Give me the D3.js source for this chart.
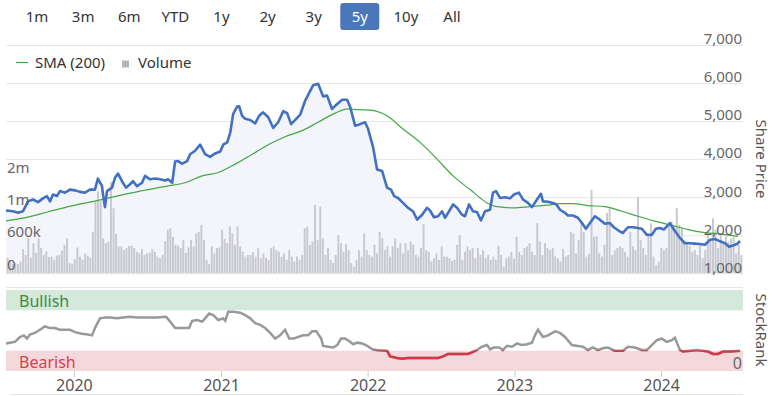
<!DOCTYPE html>
<html>
<head>
<meta charset="utf-8">
<script src="https://cdn.jsdelivr.net/npm/d3@7"></script>
<style>
  body { margin: 0; background: #fff; }
  svg text { font-family: "Noto Sans", "DejaVu Sans", sans-serif; }
  .narrow { font-family: "Liberation Sans Narrow", "Noto Sans", sans-serif; }
</style>
</head>
<body>
<div id="chart"></div>
<script>
var ranges = ["1m", "3m", "6m", "YTD", "1y", "2y", "3y", "5y", "10y", "All"];
var selectedRange = "5y";
var priceTicks = [1000, 2000, 3000, 4000, 5000, 6000, 7000];
var volumeTicks = [0, 600000, 1200000, 1800000];
var yearTicks = [2020, 2021, 2022, 2023, 2024];

// [decimal year, share price]
var price = [[2019.537,2650],[2019.584,2630],[2019.619,2590],[2019.653,2630],[2019.687,2890],[2019.721,2940],[2019.755,2870],[2019.789,2970],[2019.816,3030],[2019.837,2890],[2019.857,3070],[2019.884,3030],[2019.905,3160],[2019.939,3120],[2019.973,3200],[2020.007,3180],[2020.041,3140],[2020.075,3120],[2020.109,3200],[2020.143,3200],[2020.163,3490],[2020.191,3290],[2020.198,3070],[2020.211,2740],[2020.225,3160],[2020.259,3250],[2020.279,3510],[2020.300,3620],[2020.327,3420],[2020.354,3250],[2020.381,3340],[2020.402,3420],[2020.429,3290],[2020.463,3380],[2020.483,3560],[2020.518,3470],[2020.552,3490],[2020.586,3470],[2020.620,3440],[2020.640,3470],[2020.668,3380],[2020.688,3940],[2020.708,3950],[2020.736,3880],[2020.770,3950],[2020.790,4130],[2020.824,4220],[2020.858,4380],[2020.892,4130],[2020.926,4060],[2020.960,4150],[2020.995,4200],[2021.015,4380],[2021.042,4440],[2021.063,4700],[2021.083,5190],[2021.110,5380],[2021.124,5390],[2021.144,5140],[2021.165,5060],[2021.199,5030],[2021.233,4940],[2021.260,5140],[2021.287,5230],[2021.322,5100],[2021.356,4820],[2021.390,4970],[2021.424,5260],[2021.451,5210],[2021.478,4920],[2021.506,5030],[2021.540,5170],[2021.574,5540],[2021.601,5740],[2021.628,5940],[2021.662,5980],[2021.696,5650],[2021.723,5670],[2021.757,5320],[2021.792,5450],[2021.826,5560],[2021.860,5560],[2021.880,5380],[2021.914,4880],[2021.948,4920],[2021.982,4970],[2022.003,4790],[2022.037,4310],[2022.064,3730],[2022.098,3690],[2022.132,3250],[2022.159,3200],[2022.180,3030],[2022.207,2980],[2022.241,2850],[2022.275,2720],[2022.309,2630],[2022.337,2410],[2022.371,2540],[2022.405,2720],[2022.425,2650],[2022.452,2470],[2022.480,2500],[2022.507,2630],[2022.527,2460],[2022.561,2670],[2022.582,2810],[2022.609,2720],[2022.643,2540],[2022.663,2500],[2022.691,2810],[2022.718,2630],[2022.745,2610],[2022.772,2390],[2022.800,2630],[2022.834,2670],[2022.854,3120],[2022.875,3160],[2022.902,2980],[2022.936,3000],[2022.970,2970],[2022.997,3070],[2023.031,3120],[2023.059,2940],[2023.093,2850],[2023.120,2740],[2023.154,2940],[2023.181,3090],[2023.195,2890],[2023.229,2880],[2023.263,2850],[2023.277,2830],[2023.290,2790],[2023.311,2670],[2023.345,2590],[2023.365,2520],[2023.399,2520],[2023.433,2460],[2023.461,2320],[2023.488,2170],[2023.515,2320],[2023.549,2500],[2023.583,2410],[2023.617,2300],[2023.651,2320],[2023.678,2210],[2023.719,2100],[2023.740,2060],[2023.774,2210],[2023.808,2210],[2023.842,2190],[2023.869,2170],[2023.903,2010],[2023.937,2010],[2023.964,2170],[2023.992,2190],[2024.019,2150],[2024.060,2320],[2024.087,2150],[2024.128,1930],[2024.162,1790],[2024.196,1790],[2024.230,1780],[2024.264,1770],[2024.298,1750],[2024.332,1880],[2024.367,1900],[2024.401,1840],[2024.435,1790],[2024.462,1700],[2024.489,1730],[2024.516,1770],[2024.537,1850]];

// [decimal year, 200 day moving average]
var sma = [[2019.537,2380],[2019.680,2470],[2019.837,2630],[2019.993,2780],[2020.157,2910],[2020.293,3030],[2020.450,3160],[2020.634,3290],[2020.756,3380],[2020.872,3560],[2020.981,3650],[2021.097,3870],[2021.213,4130],[2021.322,4380],[2021.437,4590],[2021.553,4750],[2021.662,4970],[2021.778,5210],[2021.866,5320],[2021.934,5300],[2022.015,5290],[2022.132,5140],[2022.241,4790],[2022.357,4440],[2022.473,4000],[2022.582,3560],[2022.698,3200],[2022.814,2850],[2022.882,2750],[2022.991,2720],[2023.106,2750],[2023.222,2790],[2023.311,2830],[2023.392,2830],[2023.501,2780],[2023.617,2750],[2023.733,2630],[2023.842,2500],[2023.957,2370],[2024.073,2260],[2024.182,2150],[2024.298,2070],[2024.414,2030],[2024.523,1970]];

// weekly volume, thousands of shares
var volume = [290,250,170,190,170,220,450,340,660,290,560,380,650,470,340,410,300,310,250,330,340,420,530,650,190,170,260,480,310,250,370,330,290,770,1330,1520,1340,650,560,590,1700,1210,730,500,500,430,470,510,510,470,400,370,450,340,370,380,450,400,310,280,340,600,810,840,680,530,
  510,470,620,380,480,620,500,740,770,900,620,250,170,500,370,470,480,810,640,560,870,740,530,870,500,400,310,340,340,390,310,470,280,370,290,250,470,500,430,400,310,370,250,430,310,220,310,250,340,840,870,530,590,1270,620,1240,650,340,470,250,190,340,710,560,400,540,430,190,120,250,
  430,310,740,430,340,310,530,370,770,650,430,500,310,500,650,470,560,370,560,430,590,530,340,310,470,910,430,400,220,280,370,250,500,310,310,280,230,250,530,710,250,400,500,430,470,280,470,340,430,280,340,250,310,250,510,340,120,280,310,400,270,680,400,340,470,500,560,400,340,930,590,340,560,470,
  430,470,310,280,220,450,310,340,770,740,370,620,970,770,310,360,1550,680,690,370,310,530,1120,1210,340,430,470,500,470,400,310,770,500,430,1420,620,470,340,680,930,310,150,220,470,430,470,900,960,870,1210,900,840,560,590,500,400,430,340,530,280,430,710,620,1020,810,470,710,560,680,590,650,680,370,530,340];

// [decimal year, StockRank]
var stockRank = [[2019.537,34],[2019.598,36],[2019.632,42],[2019.659,44],[2019.680,40],[2019.700,45],[2019.734,47],[2019.768,51],[2019.802,55],[2019.837,53],[2019.871,53],[2019.905,51],[2019.939,51],[2019.973,51],[2020.007,48],[2020.054,46],[2020.095,45],[2020.123,44],[2020.143,53],[2020.177,65],[2020.211,66],[2020.245,66],[2020.293,65],[2020.334,66],[2020.381,67],[2020.429,66],[2020.470,66],[2020.518,66],[2020.565,66],[2020.627,67],[2020.654,61],[2020.688,53],[2020.722,53],[2020.756,53],[2020.783,53],[2020.804,62],[2020.838,63],[2020.872,61],[2020.892,65],[2020.920,71],[2020.947,69],[2020.981,63],[2021.015,65],[2021.029,62],[2021.049,73],[2021.083,73],[2021.131,72],[2021.165,69],[2021.199,65],[2021.233,59],[2021.267,57],[2021.301,53],[2021.335,47],[2021.369,40],[2021.403,44],[2021.437,51],[2021.465,40],[2021.492,40],[2021.526,42],[2021.560,44],[2021.594,44],[2021.621,49],[2021.649,49],[2021.683,40],[2021.696,31],[2021.730,30],[2021.764,29],[2021.792,32],[2021.819,40],[2021.846,40],[2021.873,37],[2021.901,33],[2021.928,35],[2021.962,34],[2021.996,31],[2022.030,27],[2022.064,26],[2022.132,25],[2022.153,18],[2022.200,16],[2022.234,15],[2022.275,16],[2022.343,16],[2022.411,16],[2022.480,16],[2022.514,18],[2022.548,21],[2022.616,21],[2022.684,21],[2022.711,23],[2022.745,26],[2022.779,30],[2022.813,32],[2022.834,27],[2022.861,29],[2022.895,29],[2022.922,26],[2022.950,31],[2022.984,30],[2023.018,34],[2023.052,32],[2023.086,33],[2023.120,35],[2023.140,44],[2023.161,51],[2023.195,42],[2023.229,44],[2023.277,49],[2023.311,47],[2023.345,42],[2023.392,32],[2023.433,31],[2023.467,30],[2023.501,26],[2023.535,29],[2023.569,26],[2023.604,28],[2023.638,29],[2023.685,25],[2023.740,25],[2023.774,30],[2023.822,29],[2023.869,26],[2023.903,26],[2023.937,32],[2023.971,38],[2024.005,40],[2024.039,36],[2024.073,38],[2024.094,41],[2024.128,26],[2024.148,24],[2024.196,25],[2024.244,26],[2024.285,25],[2024.319,24],[2024.353,21],[2024.387,21],[2024.421,24],[2024.469,24],[2024.537,25]];

var W = 773, H = 396;
var left = 6, right = 743;

function toDate(t) {
    var y = Math.floor(t);
    var a = new Date(y, 0, 1), b = new Date(y + 1, 0, 1);
    return new Date(+a + (t - y) * (b - a));
}

var svg = d3.select("#chart").append("svg")
    .attr("width", W)
    .attr("height", H);

// range buttons
var btnX = d3.scalePoint().domain(ranges).range([37, 452]);
var btns = svg.append("g").selectAll("g")
    .data(ranges)
    .enter().append("g")
    .attr("transform", function(d) { return "translate(" + btnX(d) + ",0)"; });
btns.filter(function(d) { return d == selectedRange; })
    .append("rect")
    .attr("x", -19.5).attr("y", 3)
    .attr("width", 39).attr("height", 27)
    .attr("rx", 3)
    .attr("fill", "#4a76ba");
btns.append("text")
    .attr("y", 21.5)
    .attr("text-anchor", "middle")
    .attr("font-size", 15)
    .attr("fill", function(d) { return d == selectedRange ? "#fff" : "#333"; })
    .text(function(d) { return d; });

// scales
var x = d3.scaleTime()
    .domain([toDate(2019.537), toDate(2024.557)])
    .range([left, right]);
var yPrice = d3.scaleLinear().domain([1000, 7000]).range([273.3, 45]);
var yVol = d3.scaleLinear().domain([0, 600000]).range([273.3, 241]);
var xVol = d3.scaleBand().domain(d3.range(volume.length)).range([left, right]).padding(0.25);
var yRank = d3.scaleLinear().domain([0, 100]).range([371, 290]);

// price gridlines
svg.append("g")
    .attr("transform", "translate(" + left + ",0)")
    .call(d3.axisRight(yPrice).tickValues(priceTicks).tickSize(right - left).tickFormat(""))
    .call(function(g) {
        g.select(".domain").remove();
        g.selectAll("line").attr("stroke", "#e6e6e6");
    });

// area under price
svg.append("path")
    .datum(price)
    .attr("fill", "#f3f5fb")
    .attr("d", d3.area()
        .x(function(d) { return x(toDate(d[0])); })
        .y0(yPrice(1000))
        .y1(function(d) { return yPrice(d[1]); }));

// volume bars
svg.append("g").selectAll("rect")
    .data(volume)
    .enter().append("rect")
    .attr("x", function(d, i) { return xVol(i); })
    .attr("width", xVol.bandwidth())
    .attr("y", function(d) { return yVol(d * 1000); })
    .attr("height", function(d) { return yVol(0) - yVol(d * 1000); })
    .attr("fill", "#c8c9ce");

// SMA
svg.append("path")
    .datum(sma)
    .attr("fill", "none")
    .attr("stroke", "#43a843")
    .attr("stroke-width", 1.2)
    .attr("d", d3.line()
        .curve(d3.curveMonotoneX)
        .x(function(d) { return x(toDate(d[0])); })
        .y(function(d) { return yPrice(d[1]); }));

// price line
svg.append("path")
    .datum(price)
    .attr("fill", "none")
    .attr("stroke", "#4271c1")
    .attr("stroke-width", 2.6)
    .attr("stroke-linejoin", "round")
    .attr("d", d3.line()
        .x(function(d) { return x(toDate(d[0])); })
        .y(function(d) { return yPrice(d[1]); }));

// price labels (right)
svg.append("g")
    .attr("transform", "translate(" + (right - 1) + ",0)")
    .call(d3.axisLeft(yPrice).tickValues(priceTicks).tickSize(0).tickPadding(0).tickFormat(d3.format(",")))
    .call(function(g) {
        g.select(".domain").remove();
        g.selectAll("text")
            .attr("font-family", null)
            .attr("font-size", 15)
            .attr("fill", "#666")
            .attr("dy", "-0.08em");
    });

// volume labels (left)
function volFormat(v) {
    if (v >= 1000000) return Math.round(v / 1000000) + "m";
    if (v >= 1000) return Math.round(v / 1000) + "k";
    return v;
}
svg.append("g")
    .attr("transform", "translate(" + left + ",0)")
    .call(d3.axisRight(yVol).tickValues(volumeTicks).tickSize(0).tickPadding(1).tickFormat(volFormat))
    .call(function(g) {
        g.select(".domain").remove();
        g.selectAll("text")
            .attr("font-family", null)
            .attr("font-size", 15)
            .attr("fill", "#666")
            .attr("dy", "-0.28em");
    });

// legend
var lg = svg.append("g");
lg.append("line")
    .attr("x1", 16).attr("x2", 28).attr("y1", 62.5).attr("y2", 62.5)
    .attr("stroke", "#43a843").attr("stroke-width", 1.2);
lg.append("text").attr("x", 35).attr("y", 67.5).attr("font-size", 15).attr("fill", "#333").text("SMA (200)");
lg.append("rect").attr("x", 122).attr("y", 60.5).attr("width", 7).attr("height", 7).attr("fill", "#b4b5ba");
lg.append("text").attr("x", 138).attr("y", 67.5).attr("font-size", 15).attr("fill", "#333").text("Volume");

// axis titles
svg.append("text")
    .attr("transform", "translate(756,159) rotate(90)")
    .attr("text-anchor", "middle")
    .attr("font-size", 15)
    .attr("fill", "#555")
    .text("Share Price");
svg.append("text")
    .attr("transform", "translate(756,330) rotate(90)")
    .attr("text-anchor", "middle")
    .attr("font-size", 15)
    .attr("fill", "#555")
    .text("StockRank");

// StockRank panel
svg.append("line")
    .attr("x1", left).attr("x2", right).attr("y1", 287.5).attr("y2", 287.5)
    .attr("stroke", "#e6e6e6");
svg.append("rect")
    .attr("x", left).attr("width", right - left)
    .attr("y", yRank(100)).attr("height", yRank(75) - yRank(100))
    .attr("fill", "#d4e8dc");
svg.append("rect")
    .attr("x", left).attr("width", right - left)
    .attr("y", yRank(25)).attr("height", yRank(0) - yRank(25))
    .attr("fill", "#f5d8db");
svg.append("text").attr("class", "narrow")
    .attr("x", 19).attr("y", 306.5).attr("font-size", 16).attr("fill", "#3c8c3f").text("Bullish");
svg.append("text").attr("class", "narrow")
    .attr("x", 19).attr("y", 368).attr("font-size", 16).attr("fill", "#d6414f").text("Bearish");

var rankLine = d3.line()
    .x(function(d) { return x(toDate(d[0])); })
    .y(function(d) { return yRank(d[1]); });

svg.append("clipPath").attr("id", "bear-clip")
    .append("rect")
    .attr("x", 0).attr("width", W)
    .attr("y", yRank(25.6)).attr("height", 60);

svg.append("path")
    .datum(stockRank)
    .attr("fill", "none")
    .attr("stroke", "#999")
    .attr("stroke-width", 2.5)
    .attr("d", rankLine);
svg.append("path")
    .datum(stockRank)
    .attr("fill", "none")
    .attr("stroke", "#d6384a")
    .attr("stroke-width", 2.5)
    .attr("clip-path", "url(#bear-clip)")
    .attr("d", rankLine);

svg.append("text").attr("class", "narrow")
    .attr("x", right - 1).attr("y", 369).attr("text-anchor", "end")
    .attr("font-size", 16).attr("fill", "#666").text("0");

// year axis
svg.append("g")
    .attr("transform", "translate(0," + yRank(0) + ")")
    .call(d3.axisBottom(x).tickValues(yearTicks.map(toDate)).tickSize(6).tickPadding(3).tickFormat(d3.timeFormat("%Y")))
    .call(function(g) {
        g.select(".domain").remove();
        g.selectAll("line").attr("stroke", "#ccc");
        g.selectAll("text")
            .attr("class", "narrow")
            .attr("font-family", null)
            .attr("font-size", 16)
            .attr("fill", "#555");
    });

svg.append("line")
    .attr("x1", left + 4).attr("x2", right).attr("y1", 394.5).attr("y2", 394.5)
    .attr("stroke", "#e6e6e6");
</script>
</body>
</html>
